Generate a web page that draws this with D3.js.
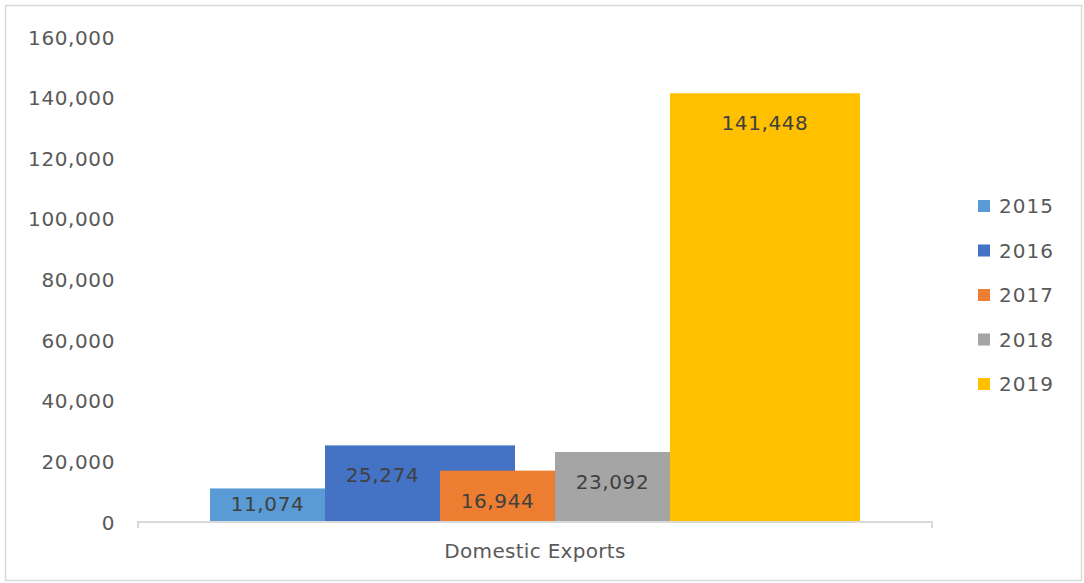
<!DOCTYPE html>
<html>
<head>
<meta charset="utf-8">
<script src="https://cdn.jsdelivr.net/npm/d3@7"></script>
<style>
  body { margin: 0; background: #fff; }
  text { font-family: "DejaVu Sans", sans-serif; }
</style>
</head>
<body>
<svg id="chart" width="1084" height="583"></svg>
<script>
const categories = ["Domestic Exports"];
const years = ["2015", "2016", "2017", "2018", "2019"];
const values = [11074, 25274, 16944, 23092, 141448];
const yTicks = [0, 20000, 40000, 60000, 80000, 100000, 120000, 140000, 160000];
const colors = ["#5B9BD5", "#4472C4", "#ED7D31", "#A5A5A5", "#FFC000"];

const width = 1084;
const height = 583;
const margin = { top: 37, right: 152, bottom: 61, left: 138 };

const svg = d3.select("#chart");

// outer frame
svg.append("rect")
  .attr("x", 5.5).attr("y", 5.5)
  .attr("width", width - 8).attr("height", height - 8)
  .attr("fill", "none")
  .attr("stroke", "#d9d9d9")
  .attr("stroke-width", 1.5);

const x0 = d3.scaleBand()
  .domain(categories)
  .range([margin.left, width - margin.right])
  .paddingInner(0)
  .paddingOuter(0.1108);

const y = d3.scaleLinear()
  .domain([0, 160000])
  .range([height - margin.bottom, margin.top]);

// bars overlap each other (excel style overlap)
const band = x0.bandwidth();
const barW = band * 190 / 650;
const step = (band - barW) / (years.length - 1);
const x1 = d3.scaleLinear().domain([0, years.length - 1]).range([0, step * (years.length - 1)]);

// y axis labels
const yAxis = d3.axisLeft(y)
  .tickValues(yTicks)
  .tickFormat(d3.format(","))
  .tickSize(0)
  .tickPadding(0);

svg.append("g")
  .attr("transform", `translate(${margin.left - 23},0)`)
  .call(yAxis)
  .call(g => g.select(".domain").remove())
  .call(g => g.selectAll("text")
    .attr("fill", "#595959")
    .style("font-size", "20px")
    .style("letter-spacing", "0.6px")
    .attr("dy", "0.35em"));

const data = years.map((yr, i) => ({ year: yr, value: values[i], color: colors[i], i }));

const plot = svg.append("g");

plot.selectAll(".bar")
  .data(data)
  .join("rect")
  .attr("class", "bar")
  .attr("x", d => x0(categories[0]) + x1(d.i))
  .attr("width", barW)
  .attr("y", d => y(d.value))
  .attr("height", d => y(0) - y(d.value))
  .attr("fill", d => d.color);

// data labels, centred on the visible part of each bar
plot.selectAll(".lbl")
  .data(data)
  .join("text")
  .attr("class", "lbl")
  .attr("x", d => {
    const s = x0(categories[0]) + x1(d.i);
    const e = d.i < years.length - 1 ? s + step : s + barW;
    return (s + e) / 2;
  })
  .attr("y", d => Math.min(y(d.value) + 30, y(0) - 18))
  .attr("dy", "0.35em")
  .attr("text-anchor", "middle")
  .attr("fill", "#404040")
  .style("font-size", "20px")
  .style("letter-spacing", "0.6px")
  .text(d => d3.format(",")(d.value));

// x axis
const xAxis = d3.axisBottom(x0).tickSize(0).tickPadding(22);
svg.append("g")
  .attr("transform", `translate(0,${y(0)})`)
  .call(xAxis)
  .call(g => g.select(".domain")
    .attr("d", `M${margin.left},6V0H${width - margin.right}V6`)
    .attr("stroke", "#d9d9d9")
    .attr("stroke-width", 2)
    .attr("fill", "none"))
  .call(g => g.selectAll("text")
    .attr("fill", "#595959")
    .style("font-size", "20px")
    .style("letter-spacing", "0.3px"));

// legend
const legend = svg.append("g")
  .attr("transform", "translate(978,206)");

const item = legend.selectAll(".item")
  .data(data)
  .join("g")
  .attr("class", "item")
  .attr("transform", d => `translate(0,${d.i * 44.5})`);

item.append("rect")
  .attr("x", 0).attr("y", -6)
  .attr("width", 12).attr("height", 12)
  .attr("fill", d => d.color);

item.append("text")
  .attr("x", 21)
  .attr("dy", "0.35em")
  .attr("fill", "#595959")
  .style("font-size", "20px")
  .style("letter-spacing", "1px")
  .text(d => d.year);
</script>
</body>
</html>
